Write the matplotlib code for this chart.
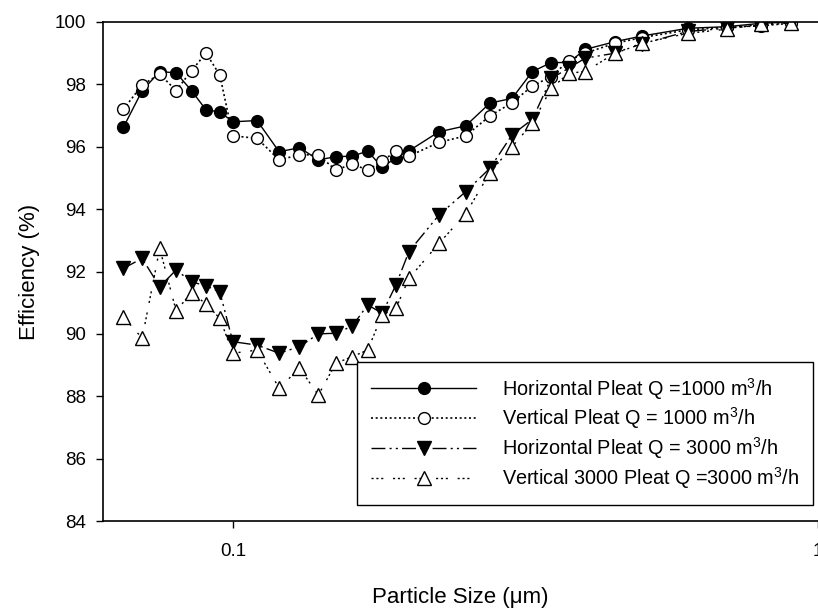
#!/usr/bin/env python3

import matplotlib
matplotlib.use('Agg')
import matplotlib.pyplot as plt
from matplotlib.ticker import FixedLocator, NullLocator, FixedFormatter

plt.rcParams['font.family'] = ['Liberation Sans', 'DejaVu Sans']
plt.rcParams['mathtext.default'] = 'regular'

# particle size (um)
size = [0.065, 0.07, 0.075, 0.08, 0.085, 0.09, 0.095, 0.1, 0.11, 0.12, 0.13, 0.14,
        0.15, 0.16, 0.17, 0.18, 0.19, 0.2, 0.225, 0.25, 0.275, 0.3, 0.325, 0.35,
        0.375, 0.4, 0.45, 0.5, 0.6, 0.7, 0.8, 0.9]

h1000 = [96.62, 97.80, 98.41, 98.37, 97.80, 97.18, 97.12, 96.80, 96.84, 95.84, 95.97, 95.58,
         95.68, 95.70, 95.86, 95.34, 95.65, 95.87, 96.48, 96.67, 97.40, 97.55, 98.41, 98.70,
         98.70, 99.12, 99.37, 99.55, 99.80, 99.85, 99.96, 100.0]
v1000 = [97.20, 97.98, 98.33, 97.80, 98.44, 99.00, 98.30, 96.35, 96.27, 95.58, 95.74, 95.74,
         95.25, 95.45, 95.25, 95.54, 95.86, 95.70, 96.14, 96.35, 96.99, 97.41, 97.95, 98.25,
         98.76, 99.00, 99.32, 99.50, 99.75, 99.83, 99.88, 99.96]
h3000 = [92.10, 92.42, 91.51, 92.05, 91.67, 91.54, 91.35, 89.75, 89.64, 89.38, 89.59, 90.00,
         90.02, 90.25, 90.93, 90.66, 91.57, 92.64, 93.81, 94.56, 95.31, 96.38, 96.88, 98.19,
         98.52, 98.84, 99.00, 99.30, 99.70, 99.80, 99.90, 99.97]
v3000 = [90.55, 89.86, 92.74, 90.74, 91.32, 90.96, 90.50, 89.38, 89.48, 88.26, 88.90, 88.04,
         89.06, 89.27, 89.48, 90.61, 90.82, 91.78, 92.90, 93.85, 95.17, 96.00, 96.75, 97.87,
         98.36, 98.41, 99.00, 99.32, 99.64, 99.77, 99.94, 99.98]

labels = ['Horizontal Pleat Q =1000 m$^3$/h',
          'Vertical Pleat Q = 1000 m$^3$/h',
          'Horizontal Pleat Q = 3000 m$^3$/h',
          'Vertical 3000 Pleat Q =3000 m$^3$/h']

x_ticks = [0.1, 1]
x_ticklabels = ['0.1', '1']
y_ticks = [84, 86, 88, 90, 92, 94, 96, 98, 100]

fig = plt.figure(figsize=(8.18, 6.08), dpi=100)
ax = fig.add_axes([103/818, 87/608, 715/818, 499/608])

ms = 8.5
ax.plot(size, h1000, color='black', lw=1.0, ls='-', marker='o', ms=ms,
        mfc='black', mec='black', mew=1.0, label=labels[0])
ax.plot(size, v1000, color='black', lw=1.2, ls=(0, (1.2, 1.6)), marker='o', ms=ms,
        mfc='white', mec='black', mew=1.0, label=labels[1])
ax.plot(size, h3000, color='black', lw=1.0, ls=(0, (10, 3, 1.5, 3, 1.5, 3)), marker='v', ms=9.5,
        mfc='black', mec='black', mew=1.0, label=labels[2])
ax.plot(size, v3000, color='black', lw=1.0, ls=(0, (1.5, 2, 1.5, 2, 1.5, 7)), marker='^', ms=9.5,
        mfc='white', mec='black', mew=1.0, label=labels[3])

ax.set_xscale('log')
ax.set_xlim(0.06, 1.0)
ax.set_ylim(84, 100)
ax.xaxis.set_major_locator(FixedLocator(x_ticks))
ax.xaxis.set_major_formatter(FixedFormatter(x_ticklabels))
ax.xaxis.set_minor_locator(NullLocator())
ax.set_yticks(y_ticks)

ax.spines['right'].set_visible(False)
for s in ['left', 'bottom', 'top']:
    ax.spines[s].set_linewidth(1.2)
ax.tick_params(axis='both', direction='out', length=5, width=1.0, labelsize=13.5)
ax.tick_params(axis='x', pad=11)
ax.tick_params(axis='y', pad=7)

ax.set_xlabel('Particle Size (\u03bcm)', fontsize=16)
ax.set_ylabel('Efficiency (%)', fontsize=16)
ax.xaxis.set_label_coords(0.5, -0.132)
ax.yaxis.set_label_coords(-0.088, 0.5)

leg = ax.legend(loc='lower right', bbox_to_anchor=(0.993, 0.032), borderaxespad=0,
                fontsize=14.3, numpoints=1, handlelength=5.3, handletextpad=1.3,
                labelspacing=0.2, borderpad=0.7, fancybox=False, framealpha=1,
                edgecolor='black')
leg.get_frame().set_linewidth(1.0)

fig.savefig('out.png', dpi=100)
